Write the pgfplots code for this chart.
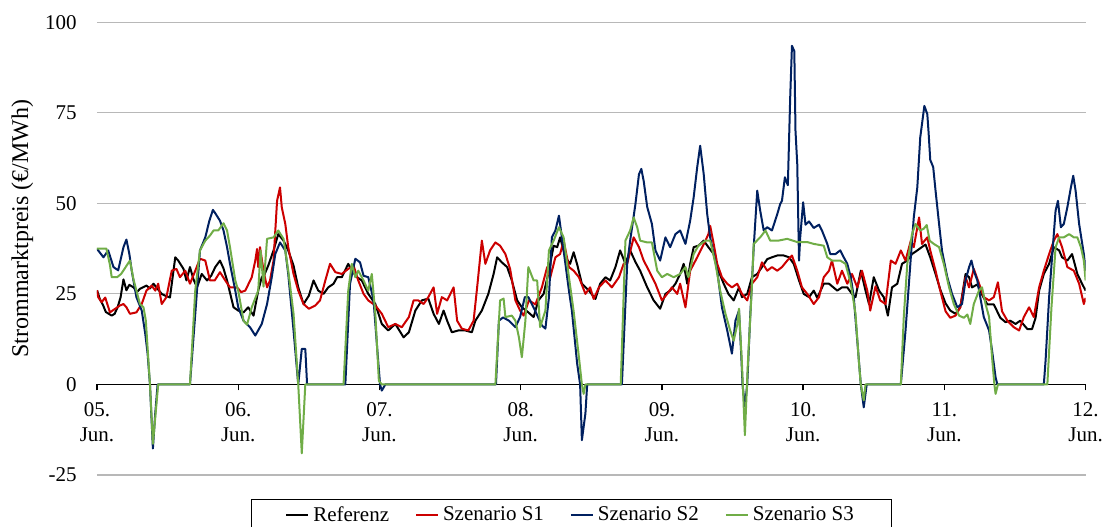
\documentclass[border=0pt]{standalone}
\usepackage{fontspec}
\setmainfont{Liberation Serif}
\usepackage{pgfplots}
\usepackage{pgfplotstable}
\pgfplotsset{compat=1.18}
\definecolor{cref}{RGB}{0,0,0}
\definecolor{csa}{RGB}{204,0,0}
\definecolor{csb}{RGB}{0,32,96}
\definecolor{csc}{RGB}{112,173,71}

\pgfplotstableread{
h v
0 26
0.5 23.5
1 22
1.5 20
2 19.5
2.5 19
3 19.5
3.5 21.3
4 24
4.5 29
5 26
5.5 27.5
6.2 26.8
6.8 25.5
7.3 26.4
8.4 27.3
9 26.5
9.6 27.8
10.1 26.8
11 25
11.6 24.5
12.4 24
13.3 35.1
13.8 34.2
14.7 31.9
15.2 28.7
15.8 32.4
16.4 29
17 26.8
17.8 30.5
18.7 28.7
19.4 30
20.1 32.4
20.9 34.2
21.5 32
22.1 28.7
23.2 21.3
24 20.4
24.9 19.9
25.7 21.3
26.6 19
27.4 25.9
28 29.6
28.5 30.5
29.1 32.8
30 37
30.8 41.5
31.7 39.7
32.5 37
33.4 32.8
34.2 26.8
35.1 22.2
36 24.5
36.8 28.7
37.6 25.9
38.5 25
39.3 26.8
40.2 27.8
40.8 29.6
41.6 29.6
42.7 33.3
43.3 31.4
44.2 29.6
45 28.7
46.1 25
47.3 22.2
48.4 16.7
49.5 14.9
50.7 16.7
52.1 13
53 14.4
54.1 20.4
55.2 23.2
56.3 23.7
57.2 19.5
58.1 16.7
58.9 20.4
59.5 17.6
60.3 14.4
61.4 14.9
62.6 14.9
63.7 14.4
64.3 17.6
65.4 20.4
66.5 25
67.4 30.5
68 35.1
68.8 33.7
69.7 32.4
70.5 28.7
71.4 23.2
72.2 21.3
73.3 19.9
74.2 18.6
75 23.2
75.9 25
76.8 31.4
77.6 38.3
78.2 37.9
78.7 40.6
79.6 35.1
80.4 33.3
81 36.5
81.6 33.1
82.4 27.8
83.6 25.9
84.7 23.6
85.5 27.8
86.4 29.6
87.2 28.7
88.1 32.4
88.9 37
89.8 33.3
90.6 37
91.5 33.8
92.3 31.4
93.5 26.8
94.6 23.2
95.7 20.9
96.6 25
97.4 25.9
98.3 27.8
99.1 30.5
99.7 33.3
100.3 27.8
100.8 33.3
101.4 37.9
102.2 38.3
103.1 39.7
103.9 37.9
104.8 36
105.6 31.4
106.5 27.8
107.3 25
108.2 23.2
109.1 26.8
109.6 24.1
110.5 25
111.3 29.6
112.2 30.5
113 32.4
113.9 34.6
114.7 35.1
115.6 35.6
116.7 35.6
117.6 35.1
118.4 33.3
119.3 28.7
120.1 25
121 24.1
121.8 25.9
122.4 23.9
123.5 27.8
124.4 27.8
125.8 25.9
126.6 26.8
127.5 26.8
128.3 25
128.9 24.1
129.8 31.4
130.6 25.9
131.2 22.2
132 29.6
132.9 25.9
133.7 24.1
134.4 19
135.1 26.8
136 27.8
136.8 33.3
137.7 34.2
138.5 36
139.4 37
140.5 38.3
140.8 38.6
141.6 35.1
142.5 30.5
143.3 26.2
144.2 22.4
145 20.4
145.9 19.5
146.7 21.3
147.6 30.5
148.2 29.6
148.7 26.8
149.6 27.6
150.4 24.8
151.3 22.1
152.4 22.1
153.5 18.4
154.4 17.2
155.2 17.6
156.1 16.7
156.9 17.6
158.1 15.3
158.9 15.3
159.5 18.4
160.1 25.9
160.9 30.5
161.8 33.3
162.6 37.9
163.5 37
164 35.1
164.9 34.2
165.7 36
166.6 30.5
167.4 27.8
168 25.9
}\tref

\pgfplotstableread{
h v
0 26
0.2 24.1
0.8 22.7
1.4 24
2.2 19.9
3.1 20.9
3.9 21.8
4.5 22.2
5 21.3
5.6 19.5
6.7 19.9
7.6 22.2
8.4 25.9
9.3 27.3
9.9 25.9
10.4 27.8
11 22.2
11.8 24.1
12.7 31.4
13.5 31.9
14.1 29.6
15 31.4
15.8 27.8
16.7 31.4
17.5 34.7
18.4 34.2
19.2 28.7
20 28.7
20.9 31
21.8 28.7
22.6 26.8
23.8 26.8
24.5 25.5
25.2 25.9
26.3 29.6
26.9 34.2
27.2 37.4
27.4 32.4
27.7 37.9
28.3 31.4
28.9 26.8
29.4 28.7
30 34.2
30.6 50.7
31.1 54.4
31.4 48.9
32 44.3
32.5 37.9
33.4 30.5
34.2 25.9
35.1 22.2
36 20.9
37.1 21.8
37.9 23.2
38.8 28.7
39.6 33.3
40.5 31
41.6 30.5
42.7 31.9
43.6 32.8
44.4 28.7
45.3 25
46.1 23.2
47.3 21.8
48.4 19.5
49.5 15.8
50.7 16.7
51.8 15.8
53 18.6
53.8 23.2
54.6 23.2
55.5 22.2
56.3 24.1
57.2 26.8
57.8 19.5
58.6 24.1
59.5 23.2
60.6 26.8
61.2 17.6
62 15.4
63.1 14.9
64 17.6
64.6 26.8
65.4 39.7
66 33.3
66.8 37
67.7 39.2
68.5 38.3
69.4 36
70.2 31.9
71.1 23.2
71.9 20.4
72.5 19
73.4 23.2
74.5 22.1
75.6 26.8
76.5 32.4
77 29.4
77.9 35.1
78.7 36
79.3 39.7
80.2 32.4
81 31.4
81.9 29.6
83 25
83.8 26.8
84.4 23.6
85.3 26.8
86.4 28.7
87.5 26.8
88.7 29.6
89.5 33.3
90.1 33.3
91.2 40.6
92.1 37.9
92.9 34.2
93.8 31.4
94.9 27.8
96 23.2
96.9 25
97.7 26.8
98.6 25
99.1 27.8
100 21.3
100.8 31.4
102 35.1
103.4 39.7
103.9 41.5
104.2 43.8
104.8 38.8
105.4 33.3
106.2 29.6
107.1 27.8
107.9 26.8
108.8 27.8
109.6 25
110.5 23.2
111.3 27.8
112.2 29.6
113 33.7
113.9 31.4
114.7 32.4
115.6 31.4
116.4 32.4
117.3 34.2
118.1 35.6
119 31.4
119.8 26.8
120.7 25
121.8 22.2
122.7 24.1
123.5 29.6
124.4 31.4
124.9 34.2
125.8 27.8
126.6 31.4
127.5 27.8
128.3 30.5
129.2 26.8
130 31.4
130.9 25.9
131.4 20.4
132.3 27.1
133.1 23.2
134 22.2
134.9 34.2
135.7 33.3
136.6 37
137.4 34.2
138.3 39.7
138.8 37.9
139.7 46.1
140.2 38.8
141.1 40.6
141.6 37
142.5 31.4
143.3 25.9
144.2 20.2
145 18.4
145.9 19
146.7 21.3
147.6 29.6
148.2 26.8
149 31.9
149.9 27.8
150.7 24.1
151.6 23.2
152.4 24.1
153.1 28.2
153.8 20.2
154.7 17.6
155.8 15.8
156.7 14.9
157.5 18.6
158.4 21.3
159.2 18.6
160.1 26.8
160.9 31.4
161.8 36
162.6 39.7
163.2 41.5
164 37.9
164.9 32.4
166 31.4
166.9 27.8
167.7 22.2
168 23.9
}\tsa

\pgfplotstableread{
h v
0 37.5
0.2 37
1.1 35.1
1.9 37
2.8 32.4
3.6 31.5
4.5 37.9
5 40
5.5 36
5.9 31.4
6.7 24.1
7.6 20.4
8.2 14
8.6 8.5
9 0
9.5 -17.7
9.9 -8
10.3 0
15.8 0
16.7 19.5
17.5 37
18.4 40.6
19.1 45.2
19.7 48.2
20.2 47
20.9 45.2
21.5 42.5
22.1 37.9
22.6 33.3
23.5 25.9
24 21.3
24.9 17.6
26 15.8
26.9 13.5
28 16.7
28.9 22.2
29.7 29.6
30.3 36
31.1 39.2
32 37
32.5 30.5
33.4 14.9
34.2 0
34.8 9.8
35.4 9.8
35.7 0
42.2 0
43 27.8
43.9 34.7
44.7 33.7
45.3 30
46.1 29.6
47 23.2
47.6 10.3
48.1 0
48.4 -1.7
49 0
67.8 0
68.3 17.6
69 18.5
70 17.6
71.1 15.8
71.9 18.6
72.7 24.1
73.3 24.1
74.5 20.2
75.6 16.3
76.2 15.4
76.8 24
77.3 40.6
77.9 42.5
78.5 46.6
79 40.6
79.6 33.3
80.2 25.9
80.7 20.4
81.6 5.7
82.1 0
82.4 -15.4
83 -8
83.3 0
89.2 0
90.1 33.3
90.6 39.7
91.5 49.8
92.1 58
92.5 59.5
92.9 56.2
93.5 49
94.3 44.3
94.9 37
95.7 34.2
96.6 40.6
97.4 37.9
98.3 41.5
99.1 42.5
100 38.8
100.8 45.2
101.4 51.7
102 60
102.5 65.9
103.1 58.1
103.7 47
104.2 40.6
104.8 36
105.4 31.4
106.2 21.3
107.1 14.9
107.9 8.5
108.5 17.6
109.1 20.4
109.5 7.5
109.7 0
110.1 -6
110.5 0
111 18.6
111.6 37.9
112.2 53.5
112.7 48
113.3 42.5
113.9 43.4
114.7 42.5
115.6 47
116.1 49.8
116.4 50.7
116.9 57.2
117.4 55
117.8 79.2
118.1 93.5
118.5 92
118.7 70
119 60.8
119.3 34.2
119.5 40.6
120 50.3
120.4 44.1
121 45
121.8 43.2
122.7 44.1
123.2 42.5
124.1 38.8
124.6 36
125.5 36
126.3 37
126.9 35.1
127.5 33.3
128.1 29.6
128.6 24.1
129.2 12.1
129.8 0
130.3 -6.3
130.8 0
136.6 0
137.4 14.9
138.3 35.1
138.8 46.1
139.4 54.4
139.9 68.2
140.6 76.9
141.1 74.6
141.3 70
141.6 62
142.1 60
142.5 53.5
143.1 44.3
143.6 36.9
144.5 29.6
145.3 25
146.2 21.3
147 22.2
147.6 28.7
148.2 32.4
148.6 34.2
149 31.4
149.6 28.7
150.1 24.1
150.7 18.6
151.6 14.9
152.1 9.4
152.7 2
153 0
160.9 0
161.2 6.6
161.8 24.1
162.3 35.1
162.9 48
163.3 50.7
163.8 43.4
164.3 44.3
164.9 48.9
165.5 54.4
165.9 57.6
166.3 53.5
166.9 44.3
167.7 36
168 31.4
}\tsb

\pgfplotstableread{
h v
0 37.5
1.6 37.5
2.2 33
2.5 29.6
3.4 29.6
4.1 30.5
5.6 34.2
6.2 29
7.3 22.2
7.9 21.3
8.3 17.6
9 0
9.5 -16.4
10.4 0
15.8 0
16.7 26
17.5 37
18.4 39.7
19.2 41.1
19.8 42.5
20.6 42.5
21.5 44.5
22.1 42.5
22.6 37.9
23.5 28.7
24 25.9
24.9 17.6
25.5 16.5
26.3 21.3
27.4 25.9
27.8 37
28.3 27
28.9 40.2
30 40.6
30.8 42.5
31.7 40.2
32.5 31.4
33.4 19.5
34.2 0
34.8 -19
35.4 0
41.9 0
42.7 25.9
43.3 33.3
43.9 29.6
44.4 31.4
45.3 28.7
46.1 25.9
46.7 30.5
47.3 19.5
47.9 1
48.4 0
67.7 0
68.5 23.2
69.1 23.7
69.4 18.6
70.5 19
71.1 17.6
71.7 13
72.2 7.5
72.8 17.6
73.3 32.4
74.2 28.7
74.8 28.7
75.3 15.8
76.2 20.4
76.8 37
77.6 39.7
78.5 43.4
79.3 40.6
80.2 29.6
81 20.2
81.9 7.5
82.4 0
82.7 -2.6
83 0
89 0
89.8 39.7
90.6 42.5
91.2 46.1
91.8 43.4
92.3 39.7
93.5 39.2
94.3 39.2
95.2 31.4
96 29.6
96.9 30.5
98 29.6
99.1 30.5
100 32.4
100.5 29.6
101.4 36
102.2 38.3
103.4 39.7
104.2 39.7
105.1 33.3
105.9 25.9
106.8 19.5
107.6 14.9
108.2 12.1
108.8 16.5
109.1 20.9
109.6 5.7
110.1 -14
110.6 5.7
111.2 24.1
111.6 38.8
112.7 40.6
113.6 42.5
114.4 39.7
115.8 39.7
117.3 40.2
119 39.3
120.7 39.3
121.8 38.8
123.5 38.3
124.1 35.1
124.9 34.2
126.3 34.2
127.2 33.3
128.1 27.8
128.9 19.5
129.5 5.7
129.8 0
130.3 -4.4
130.6 0
136.6 0
137.1 18.6
137.7 33.3
138.5 41.5
139.1 44.3
139.9 42.5
140.5 43
141 44
141.5 39.7
142.2 38.8
143.1 37.9
143.9 33.3
144.8 26.8
145.6 22.2
146.5 19
147.3 18.4
147.9 19.3
148.4 16.7
149 22.2
149.9 26
150.4 26.8
151 22.2
151.6 18.6
152.1 7.5
152.5 0
152.7 -2.6
153.1 0
161.5 0
162.2 21.3
162.9 37.9
163.5 40.6
164.3 40.6
165.2 41.5
166 40.6
166.6 40.6
167.2 37.9
167.7 34.2
168 28.7
}\tsc

\begin{document}
\begin{tikzpicture}
\begin{axis}[
  scale only axis,
  width=494.3pt, height=226.4pt,
  xmin=0, xmax=168, ymin=-25, ymax=100,
  axis x line=middle, axis y line=left,
  axis line style={-},
  x axis line style={black, line width=0.7pt},
  y axis line style={draw=none},
  hide obscured x ticks=false,
  hide obscured y ticks=false,
  xtick={0,24,48,72,96,120,144,168},
  xticklabels={{05.\\Jun.},{06.\\Jun.},{07.\\Jun.},{08.\\Jun.},{09.\\Jun.},{10.\\Jun.},{11.\\Jun.},{12.\\Jun.}},
  xticklabel style={align=center, font=\fontsize{10.5}{12.5}\selectfont, inner sep=0pt, yshift=-6pt},
  xtick align=outside,
  xtick style={black, line width=0.7pt},
  major tick length=3pt,
  ytick={-25,0,25,50,75,100},
  yticklabels={-25,0,25,50,75,100},
  ytick style={draw=none},
  yticklabel style={font=\fontsize{10.5}{12.5}\selectfont, inner sep=0pt, xshift=-8.5pt},
  ymajorgrids,
  grid style={black!28, line width=0.6pt},
  ylabel={Strommarktpreis (€/MWh)},
  ylabel style={at={(axis description cs:-0.0755,0.544)}, anchor=center, font=\fontsize{12}{14}\selectfont},
  legend columns=4,
  legend style={at={(axis description cs:0.48,0)}, anchor=north, yshift=-12pt,
    draw=black, line width=0.6pt, font=\fontsize{10.5}{12.5}\selectfont,
    inner xsep=17pt, inner ysep=1.5pt,
    /tikz/every even column/.append style={column sep=11pt}},
  legend image code/.code={\draw[#1, line width=1pt] (0pt,0pt) -- (11pt,0pt);},
  every axis plot/.append style={line width=1pt, line join=round},
]
\addplot[cref] table[x=h, y=v] {\tref};
\addlegendentry{Referenz}
\addplot[csa] table[x=h, y=v] {\tsa};
\addlegendentry{Szenario S1}
\addplot[csb] table[x=h, y=v] {\tsb};
\addlegendentry{Szenario S2}
\addplot[csc] table[x=h, y=v] {\tsc};
\addlegendentry{Szenario S3}
\end{axis}
\pgfresetboundingbox
\path[use as bounding box] (-48.5pt,-25.5pt) rectangle (503.5pt,237.5pt);
\end{tikzpicture}
\end{document}
